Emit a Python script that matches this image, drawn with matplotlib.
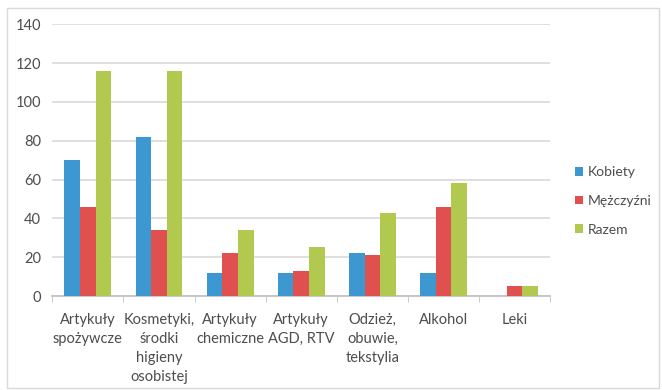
import numpy as np
import matplotlib.pyplot as plt
from matplotlib.patches import Rectangle

# Data
categories = ['Artykuły\nspożywcze', 'Kosmetyki,\nśrodki\nhigieny\nosobistej',
              'Artykuły\nchemiczne', 'Artykuły\nAGD, RTV', 'Odzież,\nobuwie,\ntekstylia',
              'Alkohol', 'Leki']
kobiety = [70, 82, 12, 12, 22, 12, 0]
mezczyzni = [46, 34, 22, 13, 21, 46, 5]
razem = [116, 116, 34, 25, 43, 58, 5]
series_names = ['Kobiety', 'Mężczyźni', 'Razem']
colors = ['#3d97d1', '#e0504f', '#b0c94e']
yticks = [0, 20, 40, 60, 80, 100, 120, 140]

plt.rcParams['font.family'] = ['Lato', 'DejaVu Sans']
text_color = '#4d4d4d'

fig = plt.figure(figsize=(6.62, 3.9), dpi=100)
ax = fig.add_axes([0.079, 0.241, 0.752, 0.697])

x = np.arange(len(categories))
w = 0.22
for i, (vals, name, c) in enumerate(zip([kobiety, mezczyzni, razem], series_names, colors)):
    ax.bar(x + (i - 1) * w, vals, width=w, color=c, label=name, zorder=3)

ax.set_xlim(-0.5, len(categories) - 0.5)
ax.set_ylim(0, 140)
ax.set_yticks(yticks)
ax.yaxis.grid(True, color='#d9d9d9', linewidth=1.2, zorder=0)
ax.tick_params(axis='y', length=0, labelsize=10.5, colors=text_color, pad=8)

ax.set_xticks(x)
ax.set_xticklabels(categories, fontsize=10.5, color=text_color, linespacing=1.45)
ax.tick_params(axis='x', length=0, pad=12)
ax.set_xticks(np.arange(len(categories) + 1) - 0.5, minor=True)
ax.tick_params(axis='x', which='minor', length=4, color='#bfbfbf', direction='out')

for s in ['top', 'right', 'left']:
    ax.spines[s].set_visible(False)
ax.spines['bottom'].set_color('#bfbfbf')
ax.spines['bottom'].set_linewidth(1.2)

leg = ax.legend(loc='center left', bbox_to_anchor=(1.025, 0.35), frameon=False,
                fontsize=10, handlelength=0.6, handleheight=0.6, handletextpad=0.3,
                labelspacing=1.2)
for t in leg.get_texts():
    t.set_color(text_color)

# light frame around the whole chart
fig.patches.append(Rectangle((0.011, 0.005), 0.985, 0.975, transform=fig.transFigure,
                             fill=False, edgecolor='#d9d9d9', linewidth=1))

fig.savefig('out.png', dpi=100)
